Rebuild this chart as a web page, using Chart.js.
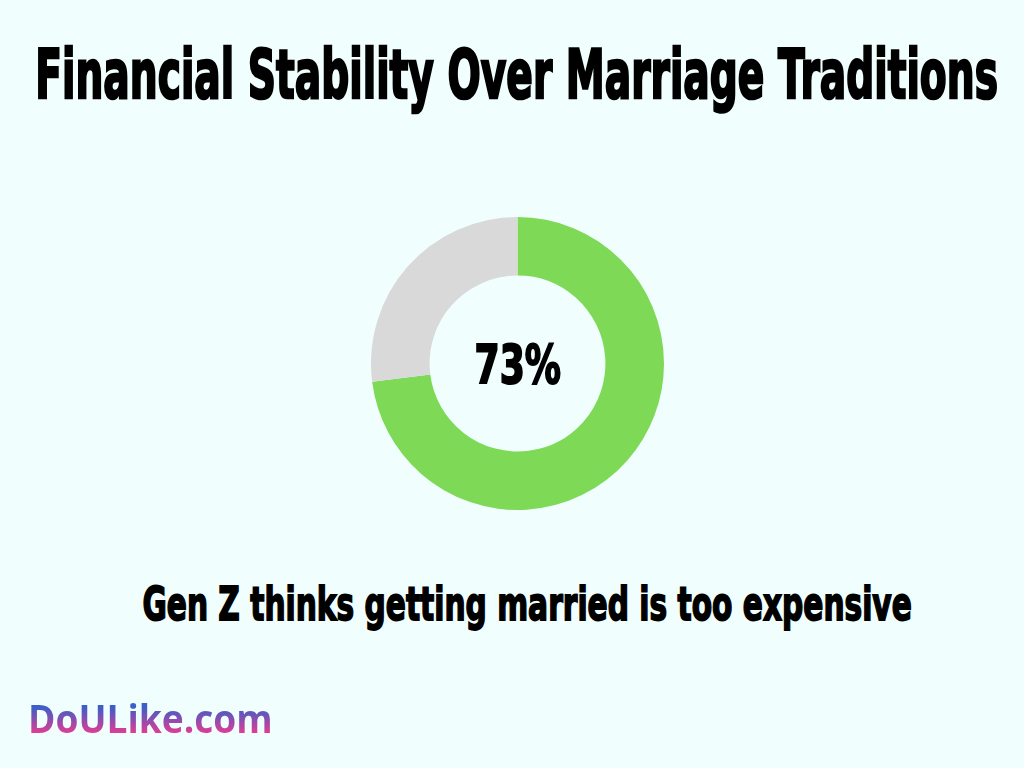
<!DOCTYPE html>
<html>
<head>
<meta charset="utf-8">
<script src="https://cdn.jsdelivr.net/npm/chart.js@4"></script>
<style>
  html, body { margin: 0; padding: 0; }
  body { width: 1024px; height: 768px; background: #f0fffe; position: relative; overflow: hidden; }
  .txt { position: absolute; left: 0; top: 0; white-space: nowrap; transform-origin: 0 0; color: #000; }
  .heavy { -webkit-text-stroke: 4px #000; }
  #chartBox { position: absolute; left: 371px; top: 217px; width: 293px; height: 293px; }
  #logo { background: linear-gradient(180deg, #3c5ec8 30%, #e03c95 78%); -webkit-background-clip: text; background-clip: text; color: transparent; }
</style>
</head>
<body>
<div id="title" class="txt heavy">Financial Stability Over Marriage Traditions</div>
<div id="chartBox"><canvas id="canvas"></canvas></div>
<div id="center" class="txt heavy"></div>
<div id="subtitle" class="txt heavy">Gen Z thinks getting married is too expensive</div>
<div id="logo" class="txt">DoULike.com</div>
<script>
var labels = ["Too expensive", "Other"];
var values = [73, 27];
var colors = ['#7ed957', '#d9d9d9'];

// stretch a line of text so its ink fills the given box
function fitText(id, font, box, pad) {
    pad = pad || 0;
    var el = document.getElementById(id);
    var ctx = document.createElement('canvas').getContext('2d');
    ctx.font = font;
    var m = ctx.measureText(el.textContent);
    var capH = ctx.measureText('H').actualBoundingBoxAscent + pad;
    var w = m.actualBoundingBoxLeft + m.actualBoundingBoxRight + 2 * pad;
    var sx = (box.right - box.left) / w;
    var sy = (box.baseline - box.capTop) / capH;
    el.style.font = font;
    el.style.lineHeight = (m.fontBoundingBoxAscent + m.fontBoundingBoxDescent) + 'px';
    var tx = box.left + sx * (m.actualBoundingBoxLeft + pad);
    var ty = box.baseline - sy * m.fontBoundingBoxAscent;
    el.style.transform = 'translate(' + tx + 'px,' + ty + 'px) scale(' + sx + ',' + sy + ')';
}

function inicializarChart() {
    var config = {
        type: 'doughnut',
        data: {
            labels: labels,
            datasets: [{
                data: values,
                backgroundColor: colors,
                borderWidth: 0
            }]
        },
        options: {
            responsive: true,
            maintainAspectRatio: false,
            animation: false,
            cutout: '60%',
            plugins: {
                legend: { display: false },
                tooltip: { enabled: false }
            }
        }
    };
    window.myDoughnut = new Chart(document.getElementById("canvas"), config);
}

document.getElementById('center').textContent = values[0] + '%';

var heavy = 'bold 100px "DejaVu Sans"';
fitText('title', heavy, { left: 38, right: 997, capTop: 47, baseline: 98 }, 2);
fitText('center', heavy, { left: 476, right: 561, capTop: 343, baseline: 383 }, 2);
fitText('subtitle', heavy, { left: 143, right: 911, capTop: 585, baseline: 620 }, 2);
fitText('logo', 'bold 100px "Open Sans"', { left: 31, right: 270, capTop: 705, baseline: 733 });

inicializarChart();
</script>
</body>
</html>
